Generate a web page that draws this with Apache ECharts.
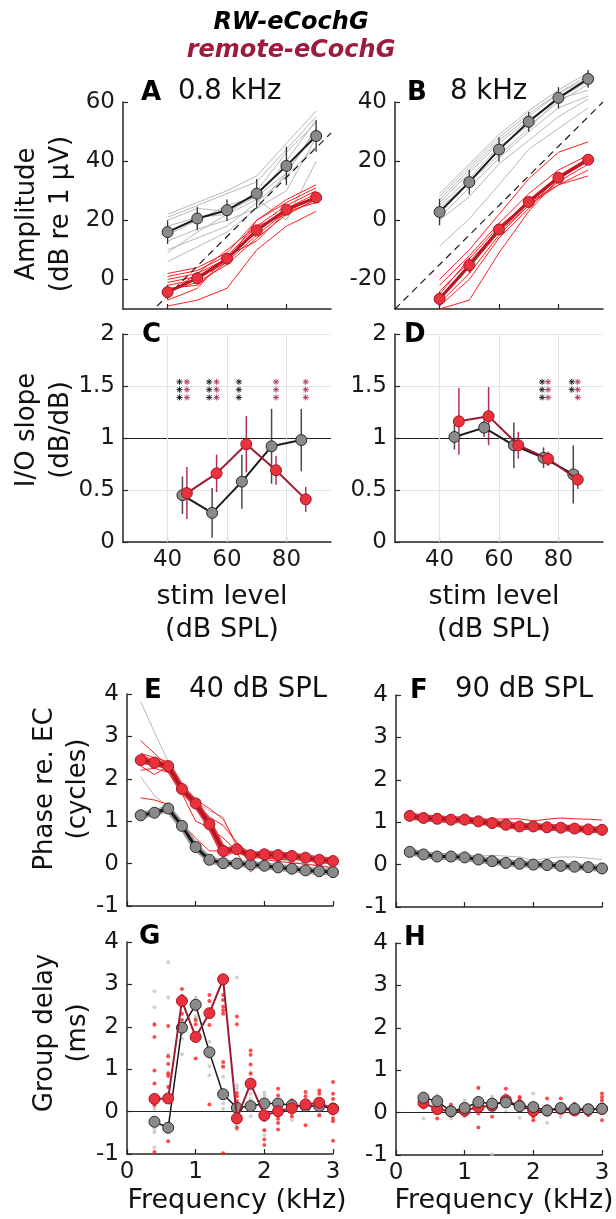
<!DOCTYPE html>
<html><head><meta charset="utf-8">
<script src="https://cdn.jsdelivr.net/npm/echarts@6/dist/echarts.min.js"></script>
<style>html,body{margin:0;padding:0;background:#fff}#c{width:616px;height:1219px}</style>
</head><body><div id="c"></div><script>
// ---------------- DATA ----------------
const levels = [40, 50, 60, 70, 80, 90];
const slopeLevelsRW = [45, 55, 65, 75, 85];
const slopeLevelsRemote = [46.5, 56.5, 66.5, 76.5, 86.5];
const freqs = [0.2,0.4,0.6,0.8,1.0,1.2,1.4,1.6,1.8,2.0,2.2,2.4,2.6,2.8,3.0];
const gdFreqs = [0.4,0.6,0.8,1.0,1.2,1.4,1.6,1.8,2.0,2.2,2.4,2.6,2.8,3.0];

// Panel A (0.8 kHz) amplitude
const ampA_rw_mean = [16.0, 20.6, 23.4, 29.0, 38.4, 48.5];
const ampA_rw_err  = [4.0, 4.0, 3.6, 5.0, 6.5, 5.3];
const ampA_re_mean = [-4.3, 0.4, 7.0, 16.6, 23.6, 27.7];
const ampA_re_err  = [2.5, 2.0, 1.8, 1.5, 1.5, 1.2];
const ampA_rw_indiv = [
  [22, 26, 30, 35, 46, 57], [21, 25, 29, 33, 44, 55], [20, 24, 23, 28, 40, 54],
  [18, 21, 22, 30, 43, 53], [15, 20, 25, 28, 36, 51], [13, 17, 20, 24, 30, 48],
  [10, 14, 18, 26, 35, 45], [9, 16, 22, 27, 20, 40], [6, 11, 16, 24, 36, 50]
];
const ampA_re_indiv = [
  [2, 4, 9, 20, 27, 32], [1, 3, 8, 18, 25, 30], [0, 2, 7, 17, 24, 29],
  [-1, 1, 7, 16, 24, 28], [-2, 0, 6, 15, 23, 28], [-4, -1, 5, 14, 22, 27],
  [-7, -3, 8, 13, 23, 26], [-9, -7, -3, 10, 18, 23], [-5, 2, 10, 18, 22, 27],
  [-3, -2, 6, 20, 26, 31]
];
const refOffsetA = 45.5;

// Panel B (8 kHz) amplitude
const ampB_rw_mean = [2.8, 12.9, 23.9, 33.3, 41.4, 47.8];
const ampB_rw_err  = [4.5, 4.2, 4.2, 3.4, 3.6, 3.0];
const ampB_re_mean = [-26.6, -15.2, -3.1, 6.2, 14.4, 20.5];
const ampB_re_err  = [2.5, 2.5, 2.0, 1.5, 1.5, 1.2];
const ampB_rw_indiv = [
  [9, 19, 29, 37, 44, 50], [8, 18, 28, 36, 43, 49], [7, 17, 27, 35, 43, 48],
  [6, 16, 26, 34, 41, 47], [5, 14, 25, 32, 40, 46], [4, 13, 22, 31, 41, 44],
  [1, 11, 21, 30, 38, 42], [-8.8, 0.5, 12, 24, 31, 38], [0, 8, 19, 27, 35, 41]
];
const ampB_re_indiv = [
  [-20, -10, 2, 14, 23, 26.5], [-22, -12, -1, 9, 17, 22], [-24, -14, -3, 7, 15, 21],
  [-26, -15, -3, 6, 14, 20], [-27, -16, -4, 5, 13, 19], [-28, -18, -5, 5, 12, 17],
  [-25, -13, -2, 6, 12, 15], [-30, -27, -11, 3, 14, 20], [-29, -20, -6, 4, 15, 21]
];
const refOffsetB = 55;

// Panels C, D: I/O slope
const slopeC_rw = [0.45, 0.28, 0.58, 0.92, 0.98];
const slopeC_rw_err = [0.18, 0.24, 0.26, 0.36, 0.30];
const slopeC_re = [0.47, 0.66, 0.94, 0.69, 0.41];
const slopeC_re_err = [0.25, 0.18, 0.27, 0.14, 0.12];
const slopeD_rw = [1.01, 1.10, 0.93, 0.81, 0.65];
const slopeD_rw_err = [0.12, 0.09, 0.22, 0.10, 0.28];
const slopeD_re = [1.16, 1.21, 0.93, 0.80, 0.60];
const slopeD_re_err = [0.32, 0.28, 0.13, 0.07, 0.09];
const sigRows = [1.54, 1.465, 1.39];
const sigC_rw = [[44, 3], [54, 3], [64, 3]];
const sigC_re = [[46.5, 3], [56.5, 3], [76.5, 3], [86.5, 3]];
const sigD_rw = [[74.5, 3], [84.5, 2]];
const sigD_re = [[76.5, 3], [86.5, 3]];

// Panel E (40 dB SPL) phase
const phaseE_rw = [1.14, 1.20, 1.30, 0.89, 0.39, 0.09, 0.01, 0.00, -0.02, -0.05, -0.09, -0.12, -0.16, -0.18, -0.20];
const phaseE_re = [2.44, 2.38, 2.30, 1.76, 1.42, 0.93, 0.30, 0.34, 0.20, 0.22, 0.20, 0.18, 0.14, 0.09, 0.06];
const phaseE_rw_indiv = [
  [3.82, 3.10, 2.40, 1.80, 1.45, 1.25, 1.10, 0.35, 0.15, 0.12, 0.10, 0.05, 0.00, -0.05, -0.10],
  [2.05, 1.60, 1.35, 0.95, 0.45, 0.12, 0.02, -0.02, -0.10, -0.08, -0.10, -0.12, -0.15, -0.18, -0.20],
  [1.10, 1.15, 1.25, 0.85, 0.35, 0.05, -0.02, -0.05, -0.08, -0.10, -0.12, -0.15, -0.20, -0.22, -0.25],
  [1.05, 1.20, 1.35, 0.90, 0.40, 0.08, 0.00, 0.02, 0.00, -0.03, -0.05, -0.08, -0.12, -0.15, -0.18],
  [1.20, 1.25, 1.30, 0.95, 0.45, 0.15, 0.05, 0.03, -0.02, -0.04, -0.07, -0.10, -0.14, -0.17, -0.20]
];
const phaseE_re_indiv = [
  [2.90, 2.60, 2.30, 1.80, 1.45, 1.00, 0.35, 0.30, 0.20, 0.25, 0.22, 0.20, 0.15, 0.10, 0.05],
  [2.60, 2.40, 2.35, 1.75, 1.40, 0.90, 0.30, 0.35, 0.20, 0.20, 0.20, 0.15, 0.15, 0.10, 0.08],
  [2.50, 2.45, 2.20, 1.70, 1.35, 0.95, 0.25, 0.30, 0.22, 0.25, 0.25, 0.20, 0.15, 0.12, 0.10],
  [2.30, 2.10, 2.30, 1.80, 1.50, 1.30, 1.05, 0.45, 0.25, 0.20, 0.20, 0.18, 0.15, 0.10, 0.05],
  [2.20, 2.25, 2.15, 1.65, 1.00, 0.85, 0.60, 0.30, 0.20, 0.15, 0.10, 0.10, 0.08, 0.05, 0.00],
  [1.55, 1.50, 1.40, 0.95, 0.60, 0.30, 0.30, 0.25, -0.20, 0.10, 0.15, 0.18, 0.15, 0.10, 0.12],
  [2.45, 2.35, 2.30, 1.75, 1.40, 0.95, 0.15, 0.30, 0.20, 0.30, 0.28, 0.22, 0.18, 0.12, 0.08],
  [2.60, 2.50, 2.40, 1.85, 1.45, 1.10, 0.90, 0.50, 0.20, 0.10, 0.05, 0.02, -0.02, -0.05, -0.10]
];

// Panel F (90 dB SPL) phase
const phaseF_rw = [0.30, 0.24, 0.19, 0.19, 0.17, 0.12, 0.08, 0.04, 0.02, 0.00, -0.01, -0.03, -0.05, -0.06, -0.09];
const phaseF_re = [1.15, 1.10, 1.08, 1.06, 1.06, 1.02, 0.98, 0.94, 0.90, 0.90, 0.88, 0.87, 0.85, 0.83, 0.82];
const phaseF_rw_indiv = [
  [0.32, 0.25, 0.20, 0.20, 0.20, 0.20, 0.22, 0.20, 0.18, 0.10, 0.15, 0.18, 0.18, 0.15, 0.12],
  [0.30, 0.22, 0.17, 0.18, 0.14, 0.10, 0.05, 0.02, 0.00, -0.02, -0.03, -0.05, -0.07, -0.08, -0.10],
  [0.28, 0.25, 0.20, 0.20, 0.18, 0.10, 0.06, 0.02, 0.00, -0.01, -0.02, -0.04, -0.06, -0.08, -0.12]
];
const phaseF_re_indiv = [
  [1.15, 1.10, 1.08, 1.07, 1.07, 1.08, 1.07, 1.08, 1.08, 1.03, 1.07, 1.10, 1.08, 1.07, 1.05],
  [1.15, 1.10, 1.09, 1.05, 1.05, 1.02, 0.96, 0.90, 0.86, 0.85, 0.84, 0.83, 0.82, 0.80, 0.78],
  [1.16, 1.12, 1.08, 1.06, 1.07, 1.05, 1.00, 0.96, 0.93, 0.92, 0.90, 0.88, 0.86, 0.84, 0.83],
  [1.14, 1.09, 1.07, 1.06, 1.05, 1.04, 1.00, 0.92, 0.88, 0.88, 0.86, 0.85, 0.84, 0.82, 0.81]
];

// Panels G, H: group delay (ms)
const gdG_rw = [-0.24, -0.38, 1.98, 2.52, 1.40, 0.41, 0.09, 0.13, 0.19, 0.19, 0.15, 0.13, 0.13, 0.07];
const gdG_re = [0.30, 0.31, 2.61, 1.76, 2.32, 3.12, -0.16, 0.66, -0.09, 0.01, 0.08, 0.17, 0.21, 0.06];
const gdH_rw = [0.35, 0.27, 0.03, 0.11, 0.25, 0.21, 0.24, 0.15, 0.13, 0.05, 0.11, 0.09, 0.08, 0.09];
const gdH_re = [0.23, 0.08, 0.03, 0.05, 0.13, 0.16, 0.29, 0.16, 0.04, 0.05, 0.09, 0.05, 0.07, 0.09];
const gdG_re_dots = [
  [0.4,2.05],[0.4,1.76],[0.4,0.97],[0.4,0.66],[0.4,0.15],[0.4,-0.95],
  [0.6,2.02],[0.6,1.30],[0.6,1.12],[0.6,0.90],[0.6,0.84],[0.6,0.58],[0.6,-0.70],
  [0.8,2.89],[0.8,2.73],[0.8,2.31],[0.8,2.16],
  [1.0,2.16],[1.0,2.06],[1.0,1.25],
  [1.2,2.75],[1.2,2.61],[1.2,2.39],[1.2,2.04],[1.2,0.17],
  [1.4,2.75],[1.4,2.63],[1.4,2.47],[1.4,2.39],[1.4,2.31],[1.4,1.17],[1.4,1.06],[1.4,-0.98],
  [1.6,2.24],[1.6,2.06],[1.6,0.44],[1.6,0.36],[1.6,0.25],[1.6,-0.20],[1.6,-0.38],
  [1.8,1.44],[1.8,1.34],[1.8,1.11],[1.8,0.89],
  [2.0,-0.20],[2.0,-0.44],[2.0,-0.66],[2.0,-0.79],
  [2.2,0.54],[2.2,0.38],[2.2,0.27],[2.2,-0.16],[2.2,-0.27],[2.2,-0.42],
  [2.4,0.27],[2.4,0.15],[2.4,-0.11],
  [2.6,0.46],[2.6,0.36],[2.6,-0.32],
  [2.8,0.50],[2.8,0.42],[2.8,-0.09],
  [3.0,0.70],[3.0,0.42],[3.0,0.30],[3.0,-0.16],[3.0,-0.23],[3.0,-0.69]
];
const gdG_rw_dots = [
  [0.4,2.84],[0.4,2.46],[0.4,2.08],[0.4,0.07],[0.4,-0.40],[0.4,-0.48],[0.4,-0.84],
  [0.6,3.52],[0.6,2.69],[0.6,1.34],[0.6,0.93],[0.6,-0.48],
  [0.8,2.04],[0.8,1.84],[0.8,1.72],[0.8,1.35],
  [1.0,2.69],[1.0,2.39],[1.0,2.24],[1.0,2.20],[1.0,1.69],
  [1.2,1.65],[1.2,1.45],[1.2,1.29],[1.2,1.07],[1.2,0.86],
  [1.4,1.07],[1.4,0.82],[1.4,0.46],[1.4,0.19],[1.4,0.07],
  [1.6,3.16],[1.6,0.62],[1.6,0.54],[1.6,-0.32],[1.6,-0.42],
  [1.8,0.93],[1.8,0.54],[1.8,0.42],[1.8,0.30],[1.8,-0.11],
  [2.0,0.45],[2.0,0.38],[2.0,-0.44],[2.0,-0.55],
  [2.2,0.11],[2.2,-0.20],[2.4,-0.09],[2.4,-0.20],[2.6,0.27],[2.6,0.07],
  [2.8,0.23],[2.8,-0.06],[3.0,0.19],[3.0,-0.09]
];
const gdH_re_dots = [
  [0.4,0.32],[0.4,0.12],[0.4,0.17],[0.6,-0.14],[0.8,0.19],[1.0,-0.06],
  [1.2,0.58],[1.2,-0.02],[1.2,-0.35],[1.4,-0.10],[1.6,0.56],[1.8,0.37],[1.8,0.33],
  [2.0,-0.10],[2.0,-0.18],[2.2,0.33],[2.4,0.33],[2.6,0.21],[2.8,-0.06],
  [3.0,0.45],[3.0,0.37],[3.0,0.29],[3.0,-0.18]
];
const gdH_rw_dots = [
  [0.4,0.45],[0.4,-0.14],[0.6,0.41],[0.8,-0.14],[1.0,0.29],[1.0,-0.10],[1.2,0.60],
  [1.4,0.38],[1.4,-0.98],[1.6,0.43],[1.6,0.02],[1.8,-0.12],[2.0,0.45],[2.2,-0.24],
  [2.4,-0.10],[3.0,0.25]
];

// Tick labels / text
const ampTicksA = [0, 20, 40, 60];
const ampTicksB = [-20, 0, 20, 40];
const levelTicks = [40, 60, 80];
const freqTicks = [0, 1, 2, 3];

// ---------------- STYLE / BUILD ----------------
const FONT = 'DejaVu Sans';
const AX = '#262626';
const RED = '#e8323c', RED_EDGE = '#a3162a', CRIMSON = '#9b1b33', INDIV_RED = '#ff1e1e';
const GRAY = '#8a8a8a', GRAY_EDGE = '#2a2a2a', INDIV_GRAY = '#b8b8b8';

const grids = [
  {left:123, top:102, width:208, height:207},
  {left:395, top:102, width:208, height:207},
  {left:123, top:334, width:208, height:208},
  {left:395, top:334, width:208, height:208},
  {left:127, top:694, width:206, height:212},
  {left:396, top:695, width:206, height:212},
  {left:127, top:942, width:206, height:212},
  {left:396, top:943, width:206, height:212}
].map(g => Object.assign({outerBoundsMode:'none', containLabel:false}, g));

function xAx(i, min, max, ticks, showLabels) {
  return {gridIndex:i, type:'value', min, max,
    axisLine:{show:true, onZero:false, lineStyle:{color:AX, width:1.5}},
    axisTick:{show:true, inside:true, length:5, customValues:ticks, lineStyle:{color:AX, width:1.2}},
    axisLabel:{show:showLabels, customValues:ticks, color:'#1a1a1a', fontSize:23, fontFamily:FONT, margin:7},
    splitLine:{show:false}};
}
function yAx(i, min, max, ticks, grid) {
  return {gridIndex:i, type:'value', min, max,
    axisLine:{show:true, onZero:false, lineStyle:{color:AX, width:1.5}},
    axisTick:{show:true, inside:true, length:5, customValues:ticks, lineStyle:{color:AX, width:1.2}},
    axisLabel:{show:true, customValues:ticks, color:'#1a1a1a', fontSize:23, fontFamily:FONT, margin:8},
    splitLine:{show:!!grid, lineStyle:{color:'#e4e4e4', width:1}}};
}
const xAxes = [
  xAx(0, 25, 95, levelTicks, false), xAx(1, 25, 95, levelTicks, false),
  xAx(2, 25, 95, levelTicks, true), xAx(3, 25, 95, levelTicks, true),
  xAx(4, 0, 3, freqTicks, false), xAx(5, 0, 3, freqTicks, false),
  xAx(6, 0, 3, freqTicks, true), xAx(7, 0, 3, freqTicks, true)
];
const yAxes = [
  yAx(0, -10, 60, ampTicksA), yAx(1, -30, 40, ampTicksB),
  yAx(2, 0, 2, [0, 0.5, 1, 1.5, 2], true), yAx(3, 0, 2, [0, 0.5, 1, 1.5, 2], true),
  yAx(4, -1, 4, [-1,0,1,2,3,4]), yAx(5, -1, 4, [-1,0,1,2,3,4]),
  yAx(6, -1, 4, [-1,0,1,2,3,4]), yAx(7, -1, 4, [-1,0,1,2,3,4])
];
yAxes.forEach(a => { if (a.splitLine.show) a.interval = 0.5; });

const series = [];
const zip = (xs, ys) => xs.map((x, i) => [x, ys[i]]);
function addIndiv(gi, xs, list, color, clip) {
  list.forEach(ys => series.push({type:'line', xAxisIndex:gi, yAxisIndex:gi, data:zip(xs, ys),
    symbol:'none', silent:true, clip, z:1, lineStyle:{color, width:1}}));
}
function addErr(gi, xs, ys, errs, color, w, clip) {
  series.push({type:'custom', xAxisIndex:gi, yAxisIndex:gi, silent:true, z:3, clip,
    data: xs.map((x, i) => [x, ys[i] - errs[i], ys[i] + errs[i]]),
    renderItem: (p, api) => {
      const a = api.coord([api.value(0), api.value(1)]), b = api.coord([api.value(0), api.value(2)]);
      return {type:'line', shape:{x1:a[0], y1:a[1], x2:b[0], y2:b[1]}, style:{stroke:color, lineWidth:w}};
    }});
}
function addMean(gi, xs, ys, lineColor, lw, fill, edge, size, z, clip) {
  series.push({type:'line', xAxisIndex:gi, yAxisIndex:gi, data:zip(xs, ys), silent:true, clip,
    symbol:'circle', symbolSize:size, showAllSymbol:true, z,
    lineStyle:{color:lineColor, width:lw},
    itemStyle:{color:fill, borderColor:edge, borderWidth:1}});
}
function addBand(gi, xs, ys, color, lw, z) {
  series.push({type:'line', xAxisIndex:gi, yAxisIndex:gi, data:zip(xs, ys), silent:true,
    symbol:'none', z, lineStyle:{color, width:lw}});
}
function addRefLine(gi, x0, x1, offset) {
  series.push({type:'line', xAxisIndex:gi, yAxisIndex:gi, silent:true, symbol:'none', z:2,
    data:[[x0, x0 - offset], [x1, x1 - offset]],
    lineStyle:{color:'#1a1a1a', width:1.2, type:[7, 5]}});
}
function addHLine(gi, y, color, w, xs) {
  const s = {type:'line', xAxisIndex:gi, yAxisIndex:gi, data:[], silent:true,
    markLine:{silent:true, symbol:['none','none'], label:{show:false}, animation:false,
      lineStyle:{color, width:w, type:'solid'}, data:[{yAxis:y}]}};
  if (xs) s.markLine.data = s.markLine.data.concat(xs.map(x => ({xAxis:x, lineStyle:{color:'#e4e4e4', width:1}})));
  series.push(s);
}
function addStars(gi, sig, color) {
  const data = [];
  sig.forEach(([x, n]) => { for (let k = 0; k < n; k++) data.push([x, sigRows[k]]); });
  series.push({type:'custom', xAxisIndex:gi, yAxisIndex:gi, silent:true, z:4, data,
    renderItem: (p, api) => {
      const c = api.coord([api.value(0), api.value(1)]), r = 3, d = 2.2;
      const segs = [[-r,0,r,0],[0,-r,0,r],[-d,-d,d,d],[-d,d,d,-d]];
      return {type:'group', children: segs.map(s => ({type:'line',
        shape:{x1:c[0]+s[0], y1:c[1]+s[1], x2:c[0]+s[2], y2:c[1]+s[3]}, style:{stroke:color, lineWidth:1}}))};
    }});
}
function addDots(gi, pts, color, z) {
  series.push({type:'scatter', xAxisIndex:gi, yAxisIndex:gi, data:pts, silent:true, z,
    symbol:'circle', symbolSize:4, itemStyle:{color}});
}

// Panel A
addIndiv(0, levels, ampA_rw_indiv, INDIV_GRAY, true);
addIndiv(0, levels, ampA_re_indiv, INDIV_RED, true);
addRefLine(0, 25, 95, refOffsetA);
addErr(0, levels, ampA_rw_mean, ampA_rw_err, '#333', 1.3, true);
addErr(0, levels, ampA_re_mean, ampA_re_err, '#8a1020', 1.3, true);
addMean(0, levels, ampA_rw_mean, '#1a1a1a', 2, GRAY, GRAY_EDGE, 11, 5, true);
addMean(0, levels, ampA_re_mean, '#b8182a', 3, RED, RED_EDGE, 11, 6, true);
// Panel B
addIndiv(1, levels, ampB_rw_indiv, INDIV_GRAY, false);
addIndiv(1, levels, ampB_re_indiv, INDIV_RED, false);
addRefLine(1, 25, 95, refOffsetB);
addErr(1, levels, ampB_rw_mean, ampB_rw_err, '#333', 1.3, false);
addErr(1, levels, ampB_re_mean, ampB_re_err, '#8a1020', 1.3, false);
addMean(1, levels, ampB_rw_mean, '#1a1a1a', 2, GRAY, GRAY_EDGE, 11, 5, false);
addMean(1, levels, ampB_re_mean, '#b8182a', 3, RED, RED_EDGE, 11, 6, false);
// Panel C
addHLine(2, 1, '#222', 1.2, levelTicks);
addStars(2, sigC_rw, '#222');
addStars(2, sigC_re, '#b8386c');
addErr(2, slopeLevelsRW, slopeC_rw, slopeC_rw_err, '#4a4a4a', 1.5, true);
addErr(2, slopeLevelsRemote, slopeC_re, slopeC_re_err, '#b03452', 1.5, true);
addMean(2, slopeLevelsRW, slopeC_rw, '#1a1a1a', 2, GRAY, GRAY_EDGE, 11, 5, true);
addMean(2, slopeLevelsRemote, slopeC_re, CRIMSON, 2, RED, RED_EDGE, 11, 6, true);
// Panel D
addHLine(3, 1, '#222', 1.2, levelTicks);
addStars(3, sigD_rw, '#222');
addStars(3, sigD_re, '#b8386c');
addErr(3, slopeLevelsRW, slopeD_rw, slopeD_rw_err, '#4a4a4a', 1.5, true);
addErr(3, slopeLevelsRemote, slopeD_re, slopeD_re_err, '#b03452', 1.5, true);
addMean(3, slopeLevelsRW, slopeD_rw, '#1a1a1a', 2, GRAY, GRAY_EDGE, 11, 5, true);
addMean(3, slopeLevelsRemote, slopeD_re, CRIMSON, 2, RED, RED_EDGE, 11, 6, true);
// Panel E
addIndiv(4, freqs, phaseE_rw_indiv, INDIV_GRAY, true);
addIndiv(4, freqs, phaseE_re_indiv, INDIV_RED, true);
addBand(4, freqs, phaseE_rw, '#a0a0a0', 7, 3);
addMean(4, freqs, phaseE_rw, '#1a1a1a', 3, GRAY, GRAY_EDGE, 11, 5, true);
addBand(4, freqs, phaseE_re, '#e04048', 7, 3);
addMean(4, freqs, phaseE_re, '#b8141e', 3.5, RED, RED_EDGE, 11, 6, true);
// Panel F
addIndiv(5, freqs, phaseF_rw_indiv, INDIV_GRAY, true);
addIndiv(5, freqs, phaseF_re_indiv, INDIV_RED, true);
addBand(5, freqs, phaseF_rw, '#a0a0a0', 7, 3);
addMean(5, freqs, phaseF_rw, '#1a1a1a', 3, GRAY, GRAY_EDGE, 11, 5, true);
addBand(5, freqs, phaseF_re, '#e04048', 7, 3);
addMean(5, freqs, phaseF_re, '#b8141e', 3.5, RED, RED_EDGE, 11, 6, true);
// Panel G
addHLine(6, 0, '#222', 1.2);
addDots(6, gdG_rw_dots, '#c4c4c4', 2);
addDots(6, gdG_re_dots, '#ff1e1e', 2);
addMean(6, gdFreqs, gdG_rw, '#1a1a1a', 1.5, GRAY, GRAY_EDGE, 11, 5, true);
addMean(6, gdFreqs, gdG_re, CRIMSON, 2, RED, RED_EDGE, 11, 6, true);
// Panel H
addHLine(7, 0, '#222', 1.2);
addDots(7, gdH_rw_dots, '#c4c4c4', 2);
addDots(7, gdH_re_dots, '#ff1e1e', 2);
addMean(7, gdFreqs, gdH_re, CRIMSON, 2, RED, RED_EDGE, 11, 5, true);
addMean(7, gdFreqs, gdH_rw, '#1a1a1a', 1.5, GRAY, GRAY_EDGE, 11, 6, true);

// Text
function txt(text, x, y, size, opts) {
  opts = opts || {};
  return {type:'text', x, y, rotation: opts.rot || 0, silent:true, z:100,
    style:{text, x:0, y:0, fill: opts.color || '#111', font: `${opts.style||'normal'} ${opts.weight||'normal'} ${size}px "${FONT}"`,
      align: opts.align || 'left', verticalAlign:'middle'}};
}
const V = Math.PI / 2;
const graphics = [
  txt('RW-eCochG', 291, 23, 24, {align:'center', weight:'bold', style:'italic', color:'#000'}),
  txt('remote-eCochG', 291, 51, 24, {align:'center', weight:'bold', style:'italic', color:'#9d1c3c'}),
  txt('A', 141, 93, 26, {weight:'bold', color:'#000'}), txt('0.8 kHz', 178, 92, 27.5),
  txt('B', 407, 93, 26, {weight:'bold', color:'#000'}), txt('8 kHz', 450, 92, 27.5),
  txt('C', 142, 335, 26, {weight:'bold', color:'#000'}),
  txt('D', 404, 335, 26, {weight:'bold', color:'#000'}),
  txt('E', 144, 691, 26, {weight:'bold', color:'#000'}), txt('40 dB SPL', 189, 690, 27.5),
  txt('F', 410, 691, 26, {weight:'bold', color:'#000'}), txt('90 dB SPL', 455, 690, 27.5),
  txt('G', 139, 937, 26, {weight:'bold', color:'#000'}),
  txt('H', 404, 938, 26, {weight:'bold', color:'#000'}),
  txt('Amplitude', 27, 214, 26, {align:'center', rot:V}),
  txt('(dB re 1 \u03BCV)', 61, 214, 26, {align:'center', rot:V}),
  txt('I/O slope', 27, 430, 26, {align:'center', rot:V}),
  txt('(dB/dB)', 61, 430, 26, {align:'center', rot:V}),
  txt('Phase re. EC', 45, 789, 26, {align:'center', rot:V}),
  txt('(cycles)', 78, 789, 26, {align:'center', rot:V}),
  txt('Group delay', 45, 1033, 26, {align:'center', rot:V}),
  txt('(ms)', 78, 1033, 26, {align:'center', rot:V}),
  txt('stim level', 222, 597, 27, {align:'center'}),
  txt('(dB SPL)', 222, 630, 27, {align:'center'}),
  txt('stim level', 494, 597, 27, {align:'center'}),
  txt('(dB SPL)', 494, 630, 27, {align:'center'}),
  txt('Frequency (kHz)', 237, 1201, 27, {align:'center'}),
  txt('Frequency (kHz)', 504, 1201, 27, {align:'center'})
];

const chart = echarts.init(document.getElementById('c'), null, {renderer:'canvas'});
chart.setOption({animation:false, backgroundColor:'#fff', grid:grids, xAxis:xAxes, yAxis:yAxes, series, graphic:graphics});
</script></body></html>
